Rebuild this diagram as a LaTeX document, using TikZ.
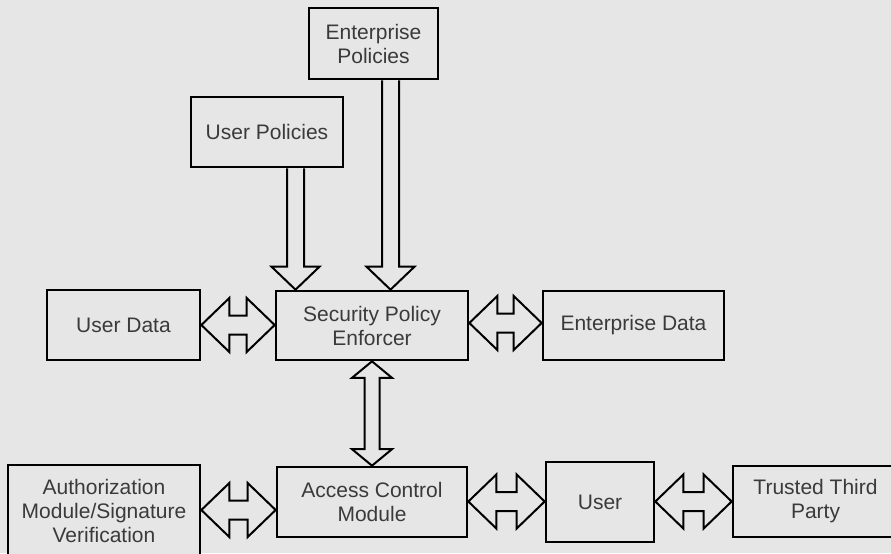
\documentclass[tikz,border=0pt]{standalone}
\usepackage{fontspec}
\setmainfont{Liberation Sans}
\usetikzlibrary{calc}
\definecolor{bgray}{HTML}{E6E6E6}
\definecolor{txt}{HTML}{3A3A3A}

% horizontal double arrow between two nodes at height #3
\newcommand\hdarrow[3]{%
  \draw[arr] (#1.east |- 0,#3) -- ++(28,-27) -- ++(0,17.5)
    -- ($(#2.west |- 0,#3)+(-28,-9.5)$) -- ++(0,-17.5)
    -- (#2.west |- 0,#3) -- ++(-28,27) -- ++(0,-17.5)
    -- ($(#1.east |- 0,#3)+(28,9.5)$) -- ++(0,17.5) -- cycle;}

% vertical double arrow between two nodes at abscissa #3
\newcommand\vdarrow[3]{%
  \draw[arr] (#1.south -| #3,0) -- ++(-20,16.5) -- ++(12.5,0)
    -- ($(#2.north -| #3,0)+(-7.5,-16.5)$) -- ++(-12.5,0)
    -- (#2.north -| #3,0) -- ++(20,-16.5) -- ++(-12.5,0)
    -- ($(#1.south -| #3,0)+(7.5,16.5)$) -- ++(12.5,0) -- cycle;}

% downward block arrow from one node into another at abscissa #3
\newcommand\vsarrow[3]{%
  \draw[arr] ($(#1.south -| #3,0)+(-8.5,0)$)
    -- ($(#2.north -| #3,0)+(-8.5,-23)$) -- ++(-15.5,0)
    -- (#2.north -| #3,0) -- ++(24,-23) -- ++(-15.5,0)
    -- ($(#1.south -| #3,0)+(8.5,0)$);}

\tikzset{
  box/.style={draw=black, line width=2pt, fill=bgray, rectangle, inner sep=0pt,
    text=txt, align=center, font=\fontsize{15.75pt}{18pt}\selectfont},
  size/.style 2 args={minimum width=#1*0.75pt, minimum height=#2*0.75pt},
  arr/.style={draw=black, line width=1.5pt, fill=bgray, line join=miter},
}

\begin{document}
\begin{tikzpicture}[x=0.75pt, y=-0.75pt]
  \useasboundingbox (0,0) rectangle (891,553);
  \fill[bgray] (0,0) rectangle (891,553);
  \clip (0,0) rectangle (891,553);

  % policy sources
  \node[box, size={129}{71}] (ep) at (373.5,43.5) {Enterprise\\Policies};
  \node[box, size={152}{70}] (up) at (267,132) {User Policies};

  % middle row
  \node[box, size={192}{69}] (spe) at (372,325.5) {Security Policy\\Enforcer};
  \node[box, size={153}{70}] (ud) at (123.5,325) {User Data};
  \node[box, size={181}{69}] (ed) at (633.5,325.5) {Enterprise Data};

  % bottom row
  \node[box, size={192}{92}] (amsv) at (104,511) {Authorization\\Module/Signature\\Verification};
  \node[box, size={190}{70}] (acm) at (372,502) {Access Control\\Module};
  \node[box, size={108}{80}] (usr) at (600,502) {User};
  \node[box, size={165}{71}] (ttp) at (815.5,501.5) {Trusted Third\\Party};

  % policies flowing into the enforcer
  \vsarrow{up}{spe}{295.5}
  \vsarrow{ep}{spe}{390.5}

  % exchanges
  \hdarrow{ud}{spe}{325}
  \hdarrow{spe}{ed}{323}
  \vdarrow{spe}{acm}{372}
  \hdarrow{amsv}{acm}{510}
  \hdarrow{acm}{usr}{501.5}
  \hdarrow{usr}{ttp}{501.5}
\end{tikzpicture}
\end{document}
